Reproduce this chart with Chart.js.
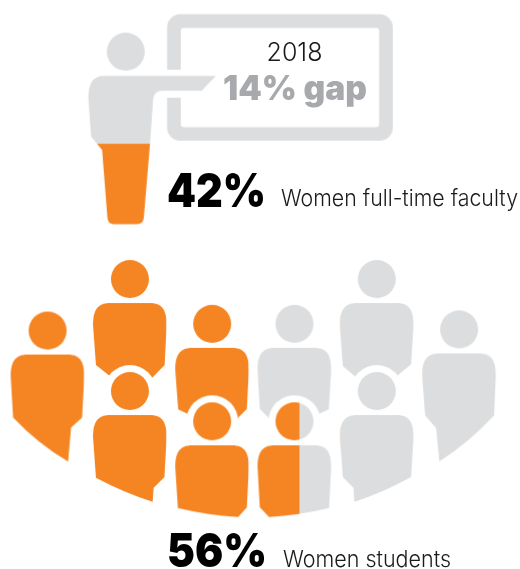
<!DOCTYPE html>
<html>
<head>
<meta charset="utf-8">
<style>
  html, body { margin: 0; padding: 0; background: #fff; }
  #wrap { width: 520px; height: 569px; }
</style>
<script src="https://cdn.jsdelivr.net/npm/chart.js@4"></script>
</head>
<body>
<div id="wrap"><canvas id="gapChart" width="520" height="569"></canvas></div>
<script>
// values
const gapYear = "2018";
const gapPoints = 14;
const facultyShare = 42;
const studentShare = 56;
const facultyLabel = "Women full-time faculty";
const studentLabel = "Women students";

// the ten students: seat column, seat row and how much of each one is orange
const seatColumn = [0, 1, 2, 3, 4, 5, 1, 2, 3, 4];
const seatRow = [0.46, 0, 0.4, 0.4, 0, 0.45, 1, 1.27, 1.27, 1];
const seatFill = [1, 1, 1, 0, 0, 0, 1, 1, 0.57, 0];

// the lecturer stands above the seats
const lecturerColumn = [0.95];
const lecturerRow = [-2.03];
const lecturerFill = [facultyShare / 100];

const ORANGE = "#f58523";
const GRAY = "#dcddde";

// lower edge of each student, head centre is 0,0. A [x, y, cx, cy] entry is a curve.
const seatEdges = [
    [[34.5, 87], [23.5, 97], [20.5, 131], [-34.5, 87, -10, 113]],
    [[34.7, 86], [20, 101], [0, 112], [-15, 101], [-34, 86]],
    [[34.7, 85], [20, 100], [0, 97], [-18, 93], [-34, 85.6]],
    [[34.3, 85.6], [18, 93], [0, 97], [-20, 100], [-34.7, 85]],
    [[34.3, 85.3], [15, 101], [0, 112], [-15, 103], [-34, 87]],
    [[35, 86], [-19.7, 132, 10, 113], [-23, 98.7], [-34, 86]],
    [[34.5, 86], [23.7, 96.7], [22.7, 110.7], [-34, 86.7, -5, 102]],
    [[34.7, 86], [26, 95.7], [-34.3, 86.7, -4, 94]],
    [[34.6, 86.7], [-25.4, 95.7, 4, 94], [-34.7, 86]],
    [[34.3, 86], [-22.4, 110.7, 5, 102], [-23.4, 96.7], [-34, 86]]
];

function makeSprite(w, h) {
    const c = document.createElement("canvas");
    c.width = w;
    c.height = h;
    const ctx = c.getContext("2d");
    ctx.translate(w / 2, h / 2);
    return { c, ctx };
}

function personPath(ctx, edge) {
    ctx.beginPath();
    ctx.arc(0, 0, 19, 0, Math.PI * 2);
    ctx.closePath();
    ctx.moveTo(-36.8, 48);
    ctx.bezierCurveTo(-37.4, 32, -33, 24, -20, 24);
    ctx.lineTo(20, 24);
    ctx.bezierCurveTo(33, 24, 37.2, 32, 36.6, 48);
    edge.forEach(function (p) {
        if (p.length === 4) ctx.quadraticCurveTo(p[2], p[3], p[0], p[1]);
        else ctx.lineTo(p[0], p[1]);
    });
    ctx.closePath();
}

function seatSprite(i) {
    const { c, ctx } = makeSprite(110, 300);
    // front row has a white ring that cuts into the row behind
    if (seatRow[i] >= 1) {
        ctx.fillStyle = "#fff";
        ctx.beginPath();
        ctx.arc(0, 0, 26, 0, Math.PI * 2);
        ctx.fill();
    }
    const split = -36.8 + seatFill[i] * 73.4;
    personPath(ctx, seatEdges[i]);
    ctx.save();
    ctx.clip();
    ctx.fillStyle = ORANGE;
    ctx.fillRect(-55, -150, split + 55, 300);
    ctx.fillStyle = GRAY;
    ctx.fillRect(split, -150, 55 - split, 300);
    ctx.restore();
    return c;
}

function lecturerSprite() {
    const { c, ctx } = makeSprite(560, 360);

    // board, open on the left where the arm comes through
    ctx.fillStyle = GRAY;
    ctx.beginPath();
    ctx.roundRect(41.3, -37.4, 225.7, 126.4, 13);
    ctx.roundRect(55, -23.7, 198.3, 99.3, 3);
    ctx.fill("evenodd");
    ctx.clearRect(40, 17.6, 16, 28.7);

    // head, torso and arm
    ctx.beginPath();
    ctx.arc(0, 0, 19, 0, Math.PI * 2);
    ctx.closePath();
    ctx.moveTo(-37.4, 48);
    ctx.bezierCurveTo(-37.8, 32, -33, 24.3, -22, 24.3);
    ctx.lineTo(90, 24.3);
    ctx.lineTo(76, 39);
    ctx.lineTo(37, 39);
    ctx.quadraticCurveTo(28, 39, 27.3, 48);
    ctx.lineTo(24.3, 91.3);
    ctx.lineTo(18, 166);
    ctx.quadraticCurveTo(17.5, 172.5, 11, 172.5);
    ctx.lineTo(-12, 172.5);
    ctx.quadraticCurveTo(-17.8, 172.5, -18.4, 166);
    ctx.lineTo(-23.7, 98.3);
    ctx.lineTo(-34.7, 85);
    ctx.closePath();

    // share is measured up from the feet, head included
    const split = 172.5 - lecturerFill[0] * 191.5;
    ctx.save();
    ctx.clip();
    ctx.fillStyle = GRAY;
    ctx.fillRect(-60, -30, 160, split + 30);
    ctx.fillStyle = ORANGE;
    ctx.fillRect(-60, split, 160, 200);
    ctx.restore();
    return c;
}

const textPlugin = {
    id: "textPlugin",
    afterDraw(chart) {
        const ctx = chart.ctx;
        const put = function (text, x, y, font, color, align, maxW) {
            ctx.font = font;
            ctx.fillStyle = color;
            ctx.textAlign = align || "left";
            ctx.textBaseline = "alphabetic";
            if (maxW) ctx.fillText(text, x, y, maxW);
            else ctx.fillText(text, x, y);
        };
        ctx.save();
        put(gapYear, 294.5, 61, "300 25px Inter", "#1a1a1a", "center");
        put(gapPoints + "% gap", 223, 100, "900 34px Inter", "#a7a9ac", "left", 144);
        put(facultyShare + "%", 167, 207, "900 47px Inter", "#000", "left", 99);
        put(facultyLabel, 281, 206, "300 23px Inter", "#1a1a1a", "left", 237);
        put(studentShare + "%", 167, 567, "900 47px Inter", "#000", "left", 100);
        put(studentLabel, 283, 567, "300 23px Inter", "#1a1a1a", "left", 168);
        ctx.restore();
    }
};

new Chart(document.getElementById("gapChart"), {
    type: "scatter",
    data: {
        datasets: [
            {
                label: "Women full-time faculty",
                data: lecturerColumn.map((x, i) => ({ x: x, y: lecturerRow[i] })),
                pointStyle: lecturerFill.map(() => lecturerSprite()),
                pointRadius: 10
            },
            {
                label: "Women students",
                data: seatColumn.map((x, i) => ({ x: x, y: seatRow[i] })),
                pointStyle: seatColumn.map((x, i) => seatSprite(i)),
                pointRadius: 10
            }
        ]
    },
    options: {
        responsive: false,
        animation: false,
        events: [],
        layout: { padding: 0, autoPadding: false },
        plugins: { legend: { display: false }, tooltip: { enabled: false } },
        scales: {
            // one column is 82.3px, one row is 112px
            x: { type: "linear", display: false, min: -0.578, max: 5.74 },
            y: { type: "linear", display: false, reverse: true, min: -2.491, max: 2.589 }
        }
    },
    plugins: [textPlugin]
});
</script>
</body>
</html>
